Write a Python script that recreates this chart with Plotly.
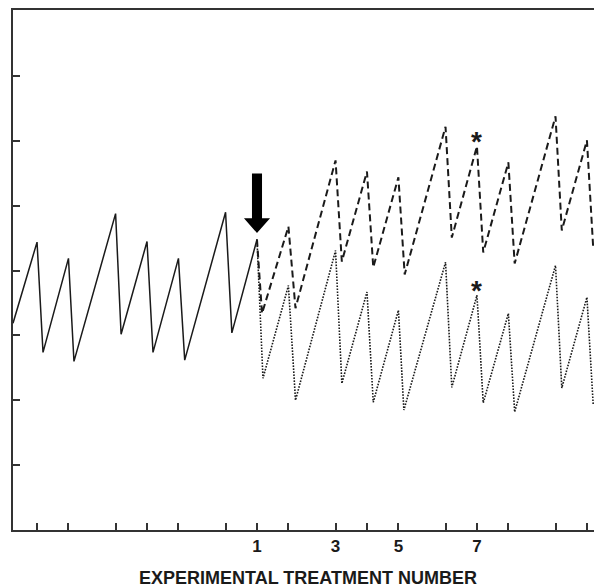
import plotly.graph_objects as go

# ---- data (x in days, y in arbitrary units) ----
solid_x = [-1.53, 0, 0.38, 2, 2.35, 5, 5.35, 7, 7.38, 9, 9.4, 12, 12.4, 14]
solid_y = [3.19, 4.44, 2.74, 4.19, 2.60, 4.88, 3.02, 4.45, 2.74, 4.19, 2.62, 4.90, 3.04, 4.48]

dashed_x = [14, 14.32, 16, 16.45, 19, 19.4, 21, 21.4, 23, 23.4, 26, 26.4, 28, 28.4, 30, 30.4, 33, 33.4, 35, 35.4]
dashed_y = [4.48, 3.34, 4.68, 3.42, 5.70, 4.14, 5.53, 4.05, 5.44, 3.94, 6.22, 4.51, 5.92, 4.28, 5.67, 4.11, 6.38, 4.62, 6.01, 4.35]

dotted_x = [14, 14.38, 16, 16.45, 19, 19.4, 21, 21.4, 23, 23.35, 26, 26.4, 28, 28.4, 30, 30.4, 33, 33.4, 35, 35.4]
dotted_y = [4.48, 2.34, 3.77, 2.00, 4.31, 2.26, 3.67, 1.97, 3.39, 1.85, 4.13, 2.20, 3.62, 1.96, 3.34, 1.82, 4.08, 2.19, 3.59, 1.93]

tick_days = [0, 2, 5, 7, 9, 12, 14, 16, 19, 21, 23, 26, 28, 30, 33, 35]
tick_text = ["", "", "", "", "", "", "1", "", "3", "", "5", "", "7", "", "", ""]
y_ticks = [1, 2, 3, 4, 5, 6, 7]

star_x = [28, 28]
star_y = [5.92, 3.62]

arrow_x = 14
arrow_tip_y = 4.58
arrow_head_y = 4.81
arrow_top_y = 5.50
arrow_shaft_half = 0.32
arrow_head_half = 0.83

ink = "#1a1a1a"
FONT = "Liberation Sans, Arial, sans-serif"

fig = go.Figure()
fig.add_trace(go.Scatter(x=solid_x, y=solid_y, mode="lines",
                         line=dict(color=ink, width=1.5), showlegend=False))
fig.add_trace(go.Scatter(x=dashed_x, y=dashed_y, mode="lines",
                         line=dict(color=ink, width=2, dash="7px,4px"), showlegend=False))
fig.add_trace(go.Scatter(x=dotted_x, y=dotted_y, mode="lines",
                         line=dict(color=ink, width=1.6, dash="1.6px,1.4px"), showlegend=False))

for sx, sy in zip(star_x, star_y):
    fig.add_annotation(x=sx, y=sy, text="*", showarrow=False, xanchor="center",
                       yanchor="middle", yshift=5,
                       font=dict(family=FONT, size=28, color=ink, weight="bold"))

ax0, ax1 = arrow_x - arrow_shaft_half, arrow_x + arrow_shaft_half
hx0, hx1 = arrow_x - arrow_head_half, arrow_x + arrow_head_half
path = (f"M {ax0},{arrow_top_y} L {ax1},{arrow_top_y} L {ax1},{arrow_head_y} "
        f"L {hx1},{arrow_head_y} L {arrow_x},{arrow_tip_y} L {hx0},{arrow_head_y} "
        f"L {ax0},{arrow_head_y} Z")
fig.add_shape(type="path", path=path, xref="x", yref="y",
              fillcolor="#000000", line=dict(width=0))

fig.add_annotation(x=0.5077, y=-0.069, xref="paper", yref="paper",
                   text="EXPERIMENTAL TREATMENT NUMBER", showarrow=False,
                   xanchor="center", yanchor="top",
                   font=dict(family=FONT, size=18, color=ink, weight="bold"))

fig.update_layout(
    width=594, height=585,
    margin=dict(l=13, r=0, t=10, b=55),
    paper_bgcolor="white", plot_bgcolor="white",
    font=dict(family=FONT, color=ink),
)
fig.update_xaxes(range=[-1.53, 35.45], showgrid=False, zeroline=False,
                 showline=True, linecolor="#333333", linewidth=1.5, mirror=True,
                 ticks="inside", ticklen=7, tickwidth=1.5, tickcolor="#333333",
                 tickmode="array", tickvals=tick_days, ticktext=tick_text,
                 tickfont=dict(family=FONT, size=17, color=ink, weight="bold"),
                 ticklabelstandoff=0)
fig.update_yaxes(range=[0, 8.02], showgrid=False, zeroline=False,
                 showline=True, linecolor="#333333", linewidth=1.5, mirror=False,
                 ticks="inside", ticklen=7, tickwidth=1.5, tickcolor="#333333",
                 tickmode="array", tickvals=y_ticks, showticklabels=False)

# remove the default page margin so the figure fills the window exactly
fig.write_html("out.html", config={"displayModeBar": False},
               post_script="document.body.style.margin='0';document.body.style.overflow='hidden';")
